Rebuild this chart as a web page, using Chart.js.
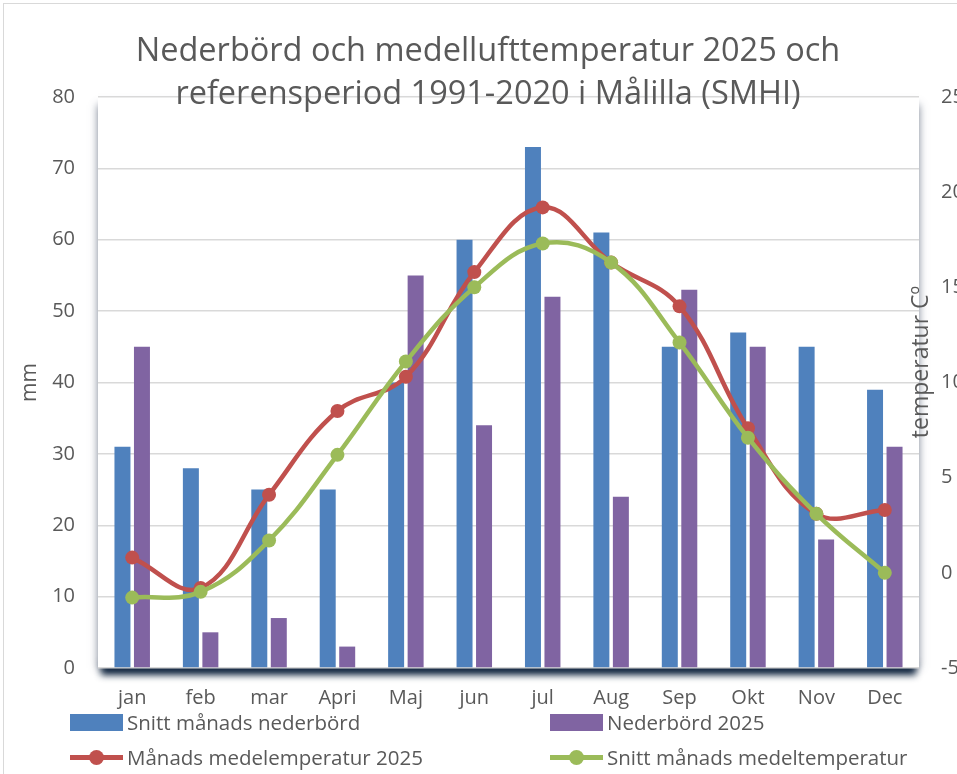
<!DOCTYPE html>
<html>
<head>
<meta charset="utf-8">
<script src="https://cdn.jsdelivr.net/npm/chart.js@4/dist/chart.umd.min.js"></script>
<style>
    html, body { margin: 0; padding: 0; background: #fff; overflow: hidden; }
    #wrap { position: relative; width: 980px; height: 774px; }
    #frame { position: absolute; left: 3px; top: 3px; width: 1100px; height: 900px; border: 1px solid #d9d9d9; }
    #chart { position: absolute; left: 0; top: 0; }
    #legend { position: absolute; left: 0; top: 0; font-family: 'Open Sans', sans-serif; font-size: 20.5px; color: #595959; }
    .item { position: absolute; height: 36px; display: flex; align-items: center; white-space: nowrap; }
    .mark { position: relative; width: 53px; height: 36px; margin-right: 4px; }
    .box { position: absolute; left: 0; top: 10px; width: 53px; height: 17px; }
    .ln { position: absolute; left: 0; top: 16px; width: 53px; height: 5px; }
    .dot { position: absolute; left: 19px; top: 11px; width: 15px; height: 15px; border-radius: 50%; }
</style>
</head>
<body>
<div id="wrap">
    <div id="frame"></div>
    <canvas id="chart" width="980" height="774"></canvas>
    <div id="legend"></div>
</div>
<script>
const months = ['jan', 'feb', 'mar', 'Apri', 'Maj', 'jun', 'jul', 'Aug', 'Sep', 'Okt', 'Nov', 'Dec'];
const snittNederbord = [31, 28, 25, 25, 40, 60, 73, 61, 45, 47, 45, 39];
const nederbord2025 = [45, 5, 7, 3, 55, 34, 52, 24, 53, 45, 18, 31];
const medeltemp2025 = [0.8, -0.8, 4.1, 8.5, 10.3, 15.8, 19.2, 16.3, 14.0, 7.6, 3.1, 3.3];
const snittMedeltemp = [-1.3, -1.0, 1.7, 6.2, 11.1, 15.0, 17.3, 16.3, 12.1, 7.1, 3.1, 0.0];
const mmTicks = [0, 10, 20, 30, 40, 50, 60, 70, 80];
const tempTicks = [-5, 0, 5, 10, 15, 20, 25];

const titleLines = ['Nederbörd och medellufttemperatur 2025 och', 'referensperiod 1991-2020 i Målilla (SMHI)'];
const grey = '#595959';
const font = "'Open Sans', sans-serif";

// plot area background with shadow, title and right axis title
const decor = {
    id: 'decor',
    beforeDraw(chart) {
        const { ctx, chartArea: a } = chart;
        ctx.save();
        ctx.fillStyle = '#fff';
        ctx.shadowColor = 'rgba(90,100,120,0.8)';
        ctx.shadowBlur = 8;
        ctx.fillRect(a.left, a.top + 8, a.width, a.height - 8);
        ctx.shadowColor = 'rgba(15,36,62,1)';
        ctx.shadowBlur = 7;
        ctx.shadowOffsetY = 7;
        ctx.fillRect(a.left + 3, a.bottom - 12, a.width - 6, 12);
        ctx.restore();
        ctx.fillStyle = '#fff';
        ctx.fillRect(a.left, a.top, a.width, a.height);
    },
    afterDraw(chart) {
        const { ctx } = chart;
        ctx.save();
        ctx.fillStyle = grey;
        ctx.textAlign = 'center';
        ctx.textBaseline = 'middle';
        ctx.font = '32.5px ' + font;
        ctx.fillText(titleLines[0], 488, 52);
        ctx.fillText(titleLines[1], 488, 95);
        ctx.translate(921, 362);
        ctx.rotate(-Math.PI / 2);
        ctx.font = '23px ' + font;
        ctx.fillText('temperatur Cº', 0, 0);
        ctx.restore();
    }
};

const chart = new Chart(document.getElementById('chart'), {
    type: 'bar',
    data: {
        labels: months,
        datasets: [
            {
                label: 'Snitt månads nederbörd',
                data: snittNederbord,
                backgroundColor: '#4F81BD',
                yAxisID: 'y',
                order: 2,
                categoryPercentage: 0.57,
                barPercentage: 0.82
            },
            {
                label: 'Nederbörd 2025',
                data: nederbord2025,
                backgroundColor: '#8064A2',
                yAxisID: 'y',
                order: 3,
                categoryPercentage: 0.57,
                barPercentage: 0.82
            },
            {
                type: 'line',
                label: 'Månads medelemperatur 2025',
                data: medeltemp2025,
                borderColor: '#C0504D',
                backgroundColor: '#C0504D',
                borderWidth: 4.5,
                pointRadius: 7,
                pointBorderWidth: 0,
                tension: 0.4,
                yAxisID: 'y1',
                order: 1
            },
            {
                type: 'line',
                label: 'Snitt månads medeltemperatur',
                data: snittMedeltemp,
                borderColor: '#9BBB59',
                backgroundColor: '#9BBB59',
                borderWidth: 4.5,
                pointRadius: 7,
                pointBorderWidth: 0,
                tension: 0.4,
                yAxisID: 'y1',
                order: 0
            }
        ]
    },
    options: {
        responsive: false,
        animation: false,
        layout: { padding: { top: 97, left: 0, right: 0, bottom: 0 } },
        plugins: {
            legend: { display: false },
            title: { display: false },
            tooltip: { enabled: false }
        },
        scales: {
            x: {
                grid: { display: false, drawTicks: false },
                border: { display: false },
                ticks: { color: grey, font: { family: font, size: 20 }, padding: 18 },
                afterFit(s) { s.height = 106; }
            },
            y: {
                position: 'left',
                min: 0,
                max: 80,
                afterBuildTicks(s) { s.ticks = mmTicks.map(v => ({ value: v })); },
                grid: { color: '#d9d9d9', lineWidth: 1.4, drawTicks: false },
                border: { display: false },
                ticks: { color: grey, font: { family: font, size: 20 }, padding: 23 },
                title: { display: true, text: 'mm', color: grey, font: { family: font, size: 21 }, padding: { top: 17 } },
                afterFit(s) { s.width = 98; }
            },
            y1: {
                position: 'right',
                min: -5,
                max: 25,
                afterBuildTicks(s) { s.ticks = tempTicks.map(v => ({ value: v })); },
                grid: { display: false, drawTicks: false },
                border: { display: false },
                ticks: { color: grey, font: { family: font, size: 20 }, padding: 22 },
                afterFit(s) { s.width = 61; }
            }
        }
    },
    plugins: [decor]
});

// legend in two columns, built from the datasets
const legendPos = [[70, 704], [550, 704], [70, 739], [550, 739]];
const legend = document.getElementById('legend');
chart.data.datasets.forEach(function (ds, i) {
    const item = document.createElement('div');
    item.className = 'item';
    item.style.left = legendPos[i][0] + 'px';
    item.style.top = legendPos[i][1] + 'px';
    const mark = document.createElement('div');
    mark.className = 'mark';
    if (ds.type === 'line') {
        mark.innerHTML = '<div class="ln" style="background:' + ds.borderColor + '"></div>' +
            '<div class="dot" style="background:' + ds.borderColor + '"></div>';
    } else {
        mark.innerHTML = '<div class="box" style="background:' + ds.backgroundColor + '"></div>';
    }
    item.appendChild(mark);
    item.appendChild(document.createTextNode(ds.label));
    legend.appendChild(item);
});
</script>
</body>
</html>
